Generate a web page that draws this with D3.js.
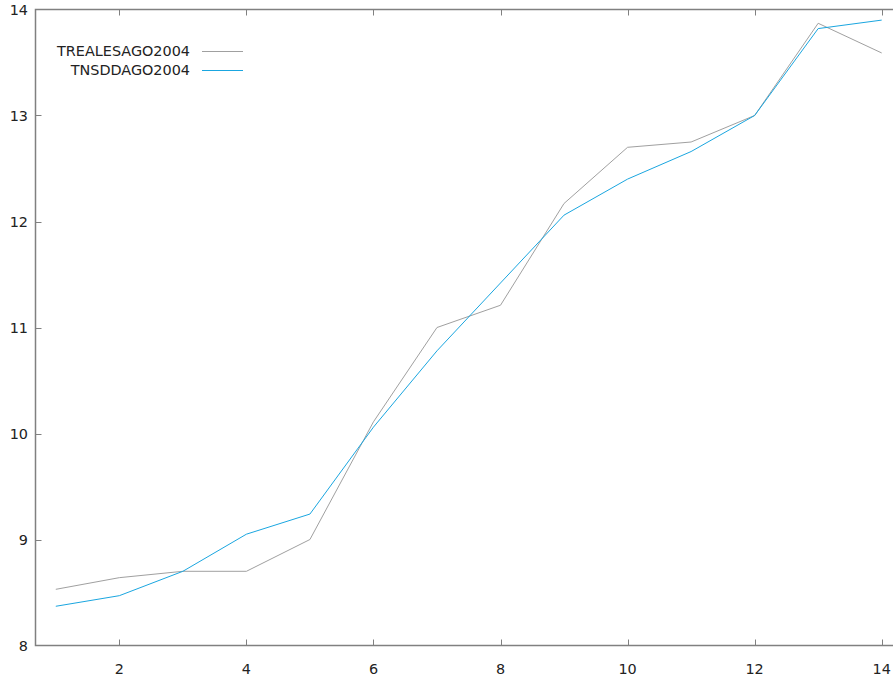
<!DOCTYPE html>
<html>
<head>
<meta charset="utf-8">
<script src="https://cdn.jsdelivr.net/npm/d3@7"></script>
<style>
  body { margin: 0; background: #fff; }
  text { font-family: "DejaVu Sans", sans-serif; font-size: 14.4px; fill: #222; }
</style>
</head>
<body>
<div id="chart"></div>
<script>
const xs = [1, 2, 3, 4, 5, 6, 7, 8, 9, 10, 11, 12, 13, 14];
const trealesago = [8.53, 8.64, 8.70, 8.70, 9.00, 10.11, 11.00, 11.21, 12.17, 12.70, 12.75, 13.00, 13.87, 13.59];
const tnsddago = [8.37, 8.47, 8.70, 9.05, 9.24, 10.06, 10.78, 11.42, 12.06, 12.40, 12.66, 13.00, 13.82, 13.90];
const seriesNames = ["TREALESAGO2004", "TNSDDAGO2004"];
const xTicks = [2, 4, 6, 8, 10, 12, 14];
const yTicks = [8, 9, 10, 11, 12, 13, 14];

const colors = { axis: "#808080", gray: "#a0a0a0", blue: "#1aa6e0" };

let width = 893, height = 678;
let m_left = 35.5, m_top = 9.5, m_bottom = 645.5, m_right = 905;

// x=1 sits at ~55.8px and x=14 at ~881.7px in the reference
let x = d3.scaleLinear().domain([1, 14]).range([55.8, 881.7]);
let y = d3.scaleLinear().domain([8, 14]).range([m_bottom, m_top]);

let svg = d3.select("#chart").append("svg")
    .attr("width", width).attr("height", height)
    .style("display", "block");

// border (left, top, bottom; right is off-picture)
svg.append("rect")
    .attr("x", m_left).attr("y", m_top)
    .attr("width", m_right - m_left).attr("height", m_bottom - m_top)
    .attr("fill", "none").attr("stroke", colors.axis).attr("stroke-width", 1.5);

// y ticks + labels
let gy = svg.append("g");
gy.selectAll("line").data(yTicks.slice(1, -1)).enter().append("line")
    .attr("x1", m_left).attr("x2", m_left + 6)
    .attr("y1", d => Math.round(y(d)) + 0.5).attr("y2", d => Math.round(y(d)) + 0.5)
    .attr("stroke", colors.axis);
gy.selectAll("text").data(yTicks).enter().append("text")
    .attr("x", 28).attr("y", d => y(d) + 5)
    .attr("text-anchor", "end")
    .text(d => d);

// x ticks (bottom and mirrored top) + labels
let gx = svg.append("g");
gx.selectAll("line.b").data(xTicks).enter().append("line").attr("class", "b")
    .attr("x1", d => Math.round(x(d)) + 0.5).attr("x2", d => Math.round(x(d)) + 0.5)
    .attr("y1", m_bottom).attr("y2", m_bottom - 6)
    .attr("stroke", colors.axis);
gx.selectAll("line.t").data(xTicks).enter().append("line").attr("class", "t")
    .attr("x1", d => Math.round(x(d)) + 0.5).attr("x2", d => Math.round(x(d)) + 0.5)
    .attr("y1", m_top).attr("y2", m_top + 6)
    .attr("stroke", colors.axis);
gx.selectAll("text").data(xTicks).enter().append("text")
    .attr("x", d => x(d)).attr("y", 674)
    .attr("text-anchor", "middle")
    .text(d => d);

// lines
const lineg = d3.line().x((d, i) => x(xs[i])).y(d => y(d));
svg.append("path").datum(trealesago)
    .attr("d", lineg).attr("fill", "none")
    .attr("stroke", colors.gray).attr("stroke-width", 1);
svg.append("path").datum(tnsddago)
    .attr("d", lineg).attr("fill", "none")
    .attr("stroke", colors.blue).attr("stroke-width", 1);

// legend
let lg = svg.append("g");
[colors.gray, colors.blue].forEach((c, i) => {
    let ly = 51 + i * 19;
    lg.append("text").attr("x", 190).attr("y", ly + 5)
        .attr("text-anchor", "end").text(seriesNames[i]);
    lg.append("line")
        .attr("x1", 202).attr("x2", 243)
        .attr("y1", ly + 0.5).attr("y2", ly + 0.5)
        .attr("stroke", c).attr("stroke-width", 1);
});
</script>
</body>
</html>
